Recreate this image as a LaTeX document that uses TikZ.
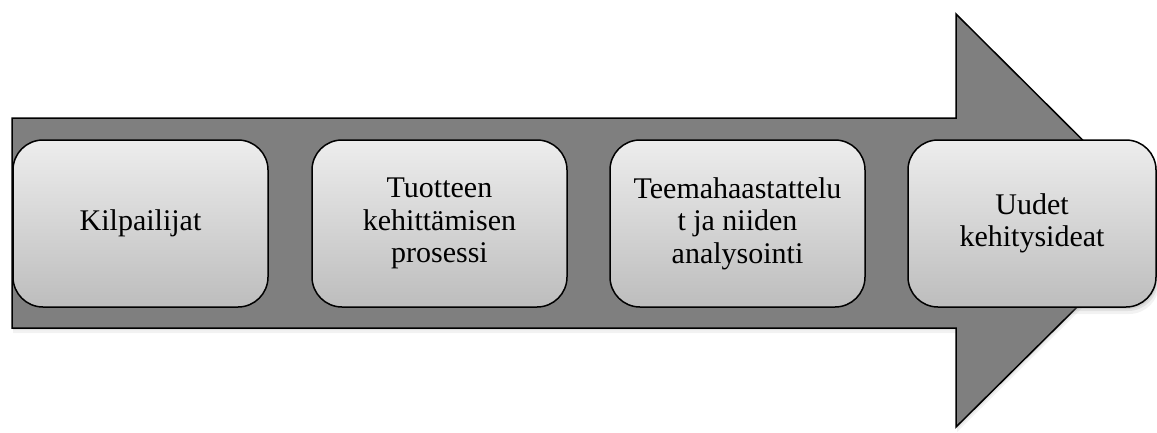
\documentclass[tikz,border=0pt]{standalone}
\usepackage{fontspec}
\setmainfont{Liberation Serif}
\usetikzlibrary{calc}
\usetikzlibrary{shadows}
\definecolor{arrowGray}{HTML}{7F7F7F}
\definecolor{boxTop}{HTML}{EDEDED}
\definecolor{boxBottom}{HTML}{BDBDBD}
\tikzstyle{bigarrow} = [draw=black, line width=1.5pt, fill=arrowGray,
    drop shadow={shadow xshift=1pt, shadow yshift=-2pt, opacity=0.15},
    drop shadow={shadow xshift=1pt, shadow yshift=-5pt, opacity=0.1}]
\tikzstyle{stagebox} = [draw=black, line width=1.5pt, rounded corners=30pt, minimum width=255pt, minimum height=167pt, align=center, top color=boxTop, bottom color=boxBottom, font=\fontsize{30}{32.5}\selectfont,
    drop shadow={shadow xshift=1pt, shadow yshift=-2pt, opacity=0.2},
    drop shadow={shadow xshift=2pt, shadow yshift=-4pt, opacity=0.15},
    drop shadow={shadow xshift=3pt, shadow yshift=-7pt, opacity=0.1}]

\begin{document}
\begin{tikzpicture}[x=1pt, y=-1pt]
    \useasboundingbox (0,0) rectangle (1157,432);

    % the big arrow behind the stages
    \coordinate (arr_tail_top) at (12,118);
    \coordinate (arr_tail_bot) at (12,328);
    \coordinate (arr_tip) at (1164,221);
    \path[bigarrow] (arr_tail_top) -- (956,118) -- (956,14) -- (arr_tip)
        -- (956,427) -- (956,328) -- (arr_tail_bot) -- cycle;

    \node[stagebox] (box_kilp) at (140.5,223.5) {Kilpailijat};
    \node[stagebox] (box_tuote) at ($(box_kilp)+(299,0)$)
{Tuotteen\\kehittämisen\\prosessi};
    \node[stagebox] (box_teema) at ($(box_tuote)+(298,0)$)
{Teemahaastattelu\\t ja niiden\\analysointi};
    \node[stagebox, minimum width=248pt] (box_uudet) at ($(box_teema)+(294.5,0)$)
{Uudet\\kehitysideat};
\end{tikzpicture}
\end{document}
